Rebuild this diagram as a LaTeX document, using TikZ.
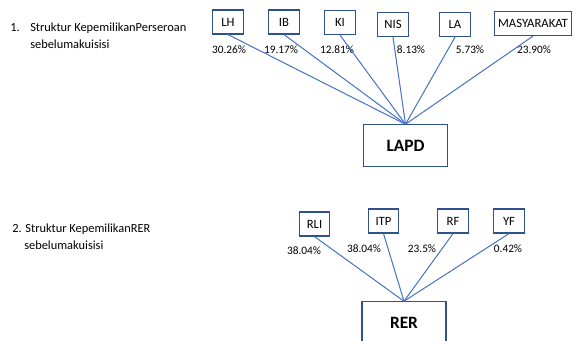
\documentclass[tikz,border=0pt]{standalone}
\usepackage{fontspec}
\setmainfont{Carlito}
\usetikzlibrary{positioning}
\definecolor{boxblue}{RGB}{47,82,143}
\definecolor{lineblue}{RGB}{68,114,196}
\begin{document}
\begin{tikzpicture}[x=0.75pt, y=-0.75pt, font=\fontsize{8.5}{12}\selectfont]
      \tikzset{
	  holder/.style={rectangle, draw=boxblue, line width=0.9pt, minimum width=23pt, minimum height=18pt, inner xsep=3pt, text centered, font=\fontsize{9.5}{12}\selectfont},
	  company/.style={rectangle, draw=boxblue, line width=0.9pt, minimum width=63pt, minimum height=31pt, font=\fontsize{13}{15}\selectfont\bfseries},
	  share/.style={inner sep=0pt, text centered},
	  caption/.style={inner sep=0pt, anchor=north west, align=left, font=\fontsize{9.3}{12.2}\selectfont},
	  link/.style={draw=lineblue, line width=0.75pt}
      }
      \useasboundingbox (0,0) rectangle (576,340);

      % part 1
      \node [caption] (num1) at (10,23) {1.};
      \node [caption] (cap1) at (30,23) {Struktur KepemilikanPerseroan\\sebelumakuisisi};

      \node [holder] (lh) at (228,22) {LH};
      \node [holder] (ib) at (284,22) {IB};
      \node [holder] (ki) at (340,22.5) {KI};
      \node [holder] (nis) at (393,24.5) {NIS};
      \node [holder] (la) at (455,24.5) {LA};
      \node [holder] (mas) at (533,23.5) {MASYARAKAT};

      \node [share] (plh) at (229,50) {30.26\%};
      \node [share] (pib) at (281,50) {19.17\%};
      \node [share] (pki) at (337,50) {12.81\%};
      \node [share] (pnis) at (411,50) {8.13\%};
      \node [share] (pla) at (470,50) {5.73\%};
      \node [share] (pmas) at (534,50) {23.90\%};

      \node [company] (lapd) at (405.5,145.5) {LAPD};

      \foreach \src in {lh,ib,ki,nis,la,mas}
          \draw [link] (\src.south) -- (lapd.north);

      % part 2
      \node [caption] (cap2) at (12,224) {2. Struktur KepemilikanRER\\\hspace*{9pt}sebelumakuisisi};

      \node [holder] (rli) at (314.5,224) {RLI};
      \node [holder] (itp) at (383.5,221) {ITP};
      \node [holder] (rf) at (453,221) {RF};
      \node [holder] (yf) at (509,221) {YF};

      \node [share] (prli) at (304,251) {38.04\%};
      \node [share] (pitp) at (364,249) {38.04\%};
      \node [share] (prf) at (422,249) {23.5\%};
      \node [share] (pyf) at (508,249) {0.42\%};

      \node [company] (rer) at (404,322.5) {RER};

      \foreach \src in {rli,itp,rf,yf}
          \draw [link] (\src.south) -- (rer.north);
\end{tikzpicture}
\end{document}
